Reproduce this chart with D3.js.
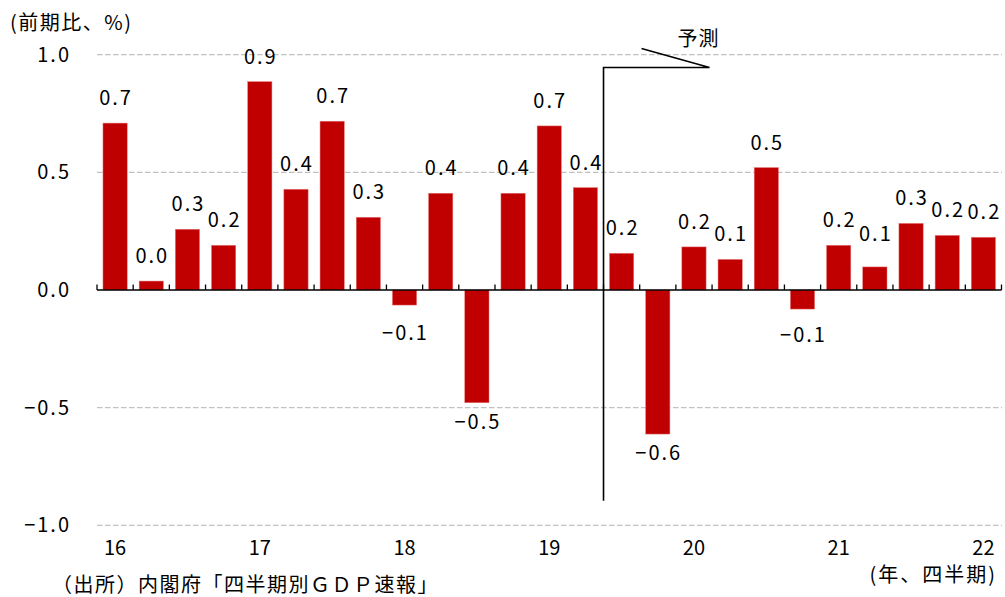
<!DOCTYPE html>
<html>
<head>
<meta charset="utf-8">
<script src="https://cdn.jsdelivr.net/npm/d3@7"></script>
<style>
  html, body { margin: 0; padding: 0; background: #fff; }
  svg { display: block; }
  text { font-family: "Noto Sans CJK JP", "Noto Sans", sans-serif; fill: #000; }
</style>
</head>
<body>
<svg id="chart" width="1005" height="597"></svg>
<script>
// Quarterly real GDP growth (quarter-on-quarter, %)
const quarters = [
  "16Q1", "16Q2", "16Q3", "16Q4",
  "17Q1", "17Q2", "17Q3", "17Q4",
  "18Q1", "18Q2", "18Q3", "18Q4",
  "19Q1", "19Q2", "19Q3", "19Q4",
  "20Q1", "20Q2", "20Q3", "20Q4",
  "21Q1", "21Q2", "21Q3", "21Q4",
  "22Q1"
];
const growth = [
  0.709, 0.038, 0.258, 0.190,
  0.885, 0.428, 0.717, 0.309,
  -0.064, 0.411, -0.479, 0.411,
  0.697, 0.435, 0.156, -0.612,
  0.183, 0.130, 0.520, -0.081,
  0.190, 0.098, 0.283, 0.232,
  0.224
];
const yearLabels = ["16", "17", "18", "19", "20", "21", "22"];
const yearQuarters = ["16Q1", "17Q1", "18Q1", "19Q1", "20Q1", "21Q1", "22Q1"];
const yTicks = [1.0, 0.5, 0.0, -0.5, -1.0];
const forecastFrom = "19Q3";

const data = quarters.map((q, i) => ({ q, v: growth[i] }));

const svg = d3.select("#chart");
const plotLeft = 97, plotRight = 1001.5, plotTop = 54.6, plotBottom = 525.4;

const x = d3.scaleBand().domain(quarters).range([plotLeft, plotRight])
  .paddingInner(0.33).paddingOuter(0.165);
const y = d3.scaleLinear().domain([-1, 1]).range([plotBottom, plotTop]);
const fmt = d3.format(".1f");

// dashed gridlines (zero is drawn as the solid axis)
svg.append("g")
  .selectAll("line")
  .data(yTicks.filter(t => t !== 0))
  .join("line")
  .attr("x1", plotLeft).attr("x2", 1002)
  .attr("y1", d => y(d)).attr("y2", d => y(d))
  .attr("stroke", "#c0c0c0")
  .attr("stroke-width", 1.3)
  .attr("stroke-dasharray", "5.5,2.5");

// y-axis labels
const yAxis = d3.axisLeft(y).tickValues(yTicks).tickFormat(fmt).tickSize(0).tickPadding(26);
const gy = svg.append("g").attr("transform", `translate(${plotLeft},0)`).call(yAxis);
gy.select(".domain").remove();
gy.selectAll("text")
  .attr("font-size", 20)
  .attr("letter-spacing", 2)
  .attr("font-family", "Noto Sans CJK JP")
  .attr("fill", "#000");

// bars
svg.append("g")
  .selectAll("rect")
  .data(data)
  .join("rect")
  .attr("x", d => x(d.q))
  .attr("width", x.bandwidth())
  .attr("y", d => y(Math.max(0, d.v)))
  .attr("height", d => Math.abs(y(d.v) - y(0)))
  .attr("fill", "#c00000")
  .attr("stroke", "#e87878")
  .attr("stroke-width", 0.5);

// zero axis with upward ticks at quarter boundaries
const step = x.step();
const edge0 = x(quarters[0]) - step * x.paddingInner() / 2;
svg.append("line")
  .attr("x1", plotLeft).attr("x2", plotRight)
  .attr("y1", y(0)).attr("y2", y(0))
  .attr("stroke", "#000").attr("stroke-width", 1.4);
svg.append("g")
  .selectAll("line")
  .data(d3.range(quarters.length + 1))
  .join("line")
  .attr("x1", i => edge0 + i * step).attr("x2", i => edge0 + i * step)
  .attr("y1", y(0)).attr("y2", y(0) - 5.5)
  .attr("stroke", "#000").attr("stroke-width", 1.3);

// value labels (a few nudged apart from neighbours)
const nudge = { "21Q2": -8, "18Q1": 9, "20Q4": 7 };
svg.append("g")
  .selectAll("text")
  .data(data)
  .join("text")
  .attr("x", d => x(d.q) + x.bandwidth() / 2 + 1)
  .attr("y", d => (d.v >= 0 ? y(d.v) - 18 : y(d.v) + 26) + (nudge[d.q] || 0))
  .attr("text-anchor", "middle")
  .attr("font-size", 20)
  .attr("letter-spacing", 2)
  .text(d => fmt(d.v));

// year labels under the first quarter of each year
svg.append("g")
  .selectAll("text")
  .data(yearQuarters)
  .join("text")
  .attr("x", q => x(q) + x.bandwidth() / 2)
  .attr("y", 555)
  .attr("text-anchor", "middle")
  .attr("font-size", 20)
  .text((q, i) => yearLabels[i]);

// forecast marker
const fx = x(forecastFrom) - step * x.paddingInner() / 2;
const fTop = y(0.945), fBottom = y(-0.895);
svg.append("path")
  .attr("d", `M${fx},${fBottom}V${fTop}H${fx + 106}L${fx + 38},${fTop - 19}`)
  .attr("fill", "none")
  .attr("stroke", "#000")
  .attr("stroke-width", 1.6);
svg.append("text")
  .attr("x", fx + 74).attr("y", 46)
  .attr("font-size", 20)
  .attr("letter-spacing", 1)
  .text("予測");

// axis titles and source
svg.append("text").attr("x", 10).attr("y", 30).attr("font-size", 20)
  .attr("letter-spacing", 1.5)
  .text("(前期比、%)");
svg.append("text").attr("x", 997).attr("y", 582).attr("font-size", 20)
  .attr("text-anchor", "end")
  .attr("letter-spacing", 2)
  .text("(年、四半期)");
svg.append("text").attr("x", 52).attr("y", 592).attr("font-size", 20)
  .attr("letter-spacing", 1.5)
  .text("（出所）内閣府「四半期別ＧＤＰ速報」");
</script>
</body>
</html>
